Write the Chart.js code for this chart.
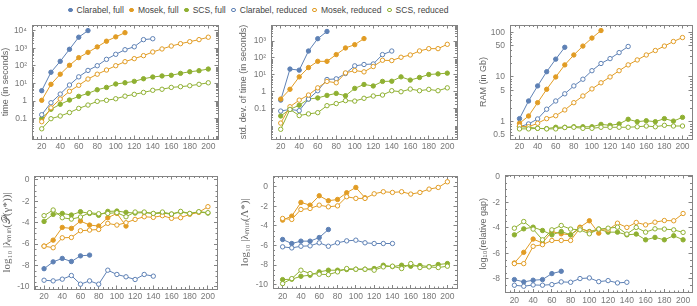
<!DOCTYPE html>
<html lang="en">
<head>
<meta charset="UTF-8">
<title>Solver benchmarks</title>
<script src="https://cdn.jsdelivr.net/npm/chart.js@4.4.0/dist/chart.umd.min.js"></script>
<style>
  body { margin: 0; background: #fff; }
  #wrap { position: relative; width: 697px; height: 306px; overflow: hidden; font-family: "Liberation Sans", Arial, sans-serif; }
  canvas { position: absolute; }
  #legend { position: absolute; left: 68px; top: 4px; display: flex; align-items: center; font-size: 8.5px; color: #444; white-space: nowrap; line-height: 12px; }
  .item { display: flex; align-items: center; margin-right: 5.5px; }
  .mk { width: 2.6px; height: 2.6px; border-radius: 50%; border: 1px solid; margin-right: 4px; }
</style>
</head>
<body>
<div id="wrap">
  <div id="legend"></div>
  <canvas id="c1" width="230" height="140" style="left:0px;top:20px"></canvas>
  <canvas id="c2" width="228" height="140" style="left:238px;top:20px"></canvas>
  <canvas id="c3" width="219" height="140" style="left:478px;top:20px"></canvas>
  <canvas id="c4" width="229" height="141" style="left:1px;top:165px"></canvas>
  <canvas id="c5" width="227" height="141" style="left:239px;top:165px"></canvas>
  <canvas id="c6" width="219" height="141" style="left:478px;top:165px"></canvas>
</div>
<script>
// problem sizes n
const nValues = [20, 30, 40, 50, 60, 70, 80, 90, 100, 110, 120, 130, 140, 150, 160, 170, 180, 190, 200];
const xTickValues = [20, 40, 60, 80, 100, 120, 140, 160, 180, 200];

const seriesNames = ['Clarabel, full', 'Mosek, full', 'SCS, full', 'Clarabel, reduced', 'Mosek, reduced', 'SCS, reduced'];

// time (s)
const clarabelFullTime = [3.9, 44, 185, 900, 4400, 10500];
const mosekFullTime = [1.1, 9, 34, 110, 300, 600, 1230, 2600, 4600, 8000];
const scsFullTime = [0.098, 0.34, 0.65, 1.14, 1.85, 2.75, 4.4, 6, 9.4, 11, 13.3, 18.7, 23.5, 27, 29.5, 38, 47, 54, 67];
const clarabelRedTime = [0.165, 0.8, 2.5, 8.2, 24, 56, 104, 240, 465, 850, 1250, 3200, 3600];
const mosekRedTime = [0.066, 0.41, 1.3, 3.6, 7.9, 18, 34, 59, 104, 176, 263, 390, 630, 940, 1380, 1880, 2450, 3200, 4400];
const scsRedTime = [0.026, 0.098, 0.14, 0.22, 0.38, 0.59, 0.96, 1.1, 1.35, 1.9, 2.4, 3.1, 4.1, 4.7, 6, 6.6, 7.5, 9, 11];

// std. dev. of time (s)
const clarabelFullStd = [0.32, 22, 19, 257, 1380, 3700];
const mosekFullStd = [0.37, 1.4, 7.6, 27, 63, 63, 158, 390, 610, 1400];
const scsFullStd = [0.037, 0.09, 0.16, 0.37, 0.43, 0.61, 0.8, 0.58, 1.58, 2.7, 2.2, 4.1, 4.2, 7.6, 4.9, 7, 10.5, 11.4, 12.6];
const clarabelRedStd = [0.072, 0.09, 0.076, 0.37, 1.15, 5.3, 5.8, 12, 34, 41, 44, 158, 257];
const mosekRedStd = [0.014, 0.13, 0.32, 0.64, 1.7, 4.1, 3.4, 13, 18, 15, 31, 73, 70, 110, 150, 260, 355, 355, 640];
const scsRedStd = [0.006, 0.09, 0.039, 0.049, 0.058, 0.15, 0.2, 0.3, 0.28, 0.41, 0.56, 0.64, 1.15, 1.0, 1.44, 1.15, 1.38, 1.15, 1.7];

// RAM (Gb)
const clarabelFullRam = [1.17, 2.9, 6.3, 13.1, 25, 46];
const mosekFullRam = [0.92, 1.34, 2.66, 5.3, 10, 18.6, 31, 49, 74, 109];
const scsFullRam = [0.77, 0.75, 0.71, 0.7, 0.75, 0.75, 0.77, 0.77, 0.77, 0.87, 0.83, 0.89, 1.13, 1.0, 1.05, 1.0, 1.17, 1.03, 1.25];
const clarabelRedRam = [0.77, 0.89, 1.15, 1.9, 2.9, 4.2, 6.3, 8.9, 13.8, 20, 25.7, 35, 48];
const mosekRedRam = [0.8, 0.77, 0.92, 1.17, 1.36, 1.83, 2.66, 3.75, 5.4, 7.4, 10, 13.8, 18.6, 24, 31, 39, 49, 62, 76];
const scsRedRam = [0.69, 0.69, 0.71, 0.69, 0.69, 0.74, 0.75, 0.71, 0.71, 0.75, 0.75, 0.75, 0.75, 0.77, 0.8, 0.77, 0.83, 0.8, 0.8];

// log10 |lambda_min(P(gamma*))|
const clarabelFullP = [-8.3, -7.66, -7.34, -7.63, -7.1, -7.03];
const mosekFullP = [-6.19, -5.63, -4.44, -4.53, -3.84, -4.22, -4.31, -3.53, -3.13, -4.31];
const scsFullP = [-3.88, -3.22, -3.13, -3.28, -2.97, -3.13, -3.31, -2.94, -2.91, -3.03, -3.1, -3.05, -3.15, -3.1, -3.2, -3.0, -3.15, -3.0, -3.1];
const clarabelRedP = [-9.38, -9.44, -9.28, -8.94, -9.75, -9.44, -9.75, -8.44, -8.84, -9.06, -9.31, -8.84, -9.0];
const mosekRedP = [-6.19, -6.34, -5.41, -5.38, -4.75, -4.69, -4.63, -4.06, -4.22, -4.0, -3.69, -3.44, -3.5, -3.34, -3.59, -3.53, -3.22, -3.03, -2.5];
const scsRedP = [-3.34, -2.81, -3.53, -3.66, -3.47, -3.06, -3.16, -3.13, -3.06, -3.44, -3.0, -3.0, -3.13, -3.0, -3.19, -2.94, -3.13, -2.97, -3.06];

// log10 |lambda_min(Lambda*)|
const clarabelFullL = [-5.39, -5.8, -5.56, -5.56, -5.19, -4.37];
const mosekFullL = [-3.41, -3.0, -1.6, -1.88, -0.92, -1.43, -1.3, -0.61, -0.07, -1.13];
const scsFullL = [-9.49, -9.45, -9.15, -9.04, -8.7, -8.53, -8.53, -8.46, -8.43, -8.43, -8.36, -8.02, -8.16, -8.02, -8.12, -8.05, -8.16, -7.95, -7.85];
const clarabelRedL = [-6.14, -6.25, -6.08, -6.04, -5.73, -6.08, -5.73, -5.53, -5.46, -5.73, -5.8, -5.8, -5.8];
const mosekRedL = [-3.24, -3.34, -2.32, -2.22, -1.88, -2.05, -1.95, -1.02, -1.19, -1.19, -0.72, -0.51, -0.58, -0.51, -0.75, -0.58, -0.24, -0.07, 0.51];
const scsRedL = [-9.9, -9.39, -8.53, -8.87, -8.94, -8.98, -8.7, -8.36, -8.43, -8.43, -8.53, -8.19, -8.12, -8.36, -7.85, -8.26, -8.19, -8.26, -8.12];

// log10(relative gap)
const clarabelFullG = [-8.05, -8.23, -8.1, -8.05, -7.58, -7.4];
const mosekFullG = [-6.75, -5.92, -4.88, -5.19, -4.29, -4.47, -4.55, -3.95, -3.45, -4.42];
const scsFullG = [-4.55, -4.08, -3.95, -4.21, -4.55, -4.29, -4.55, -4.03, -4.29, -4.1, -4.34, -4.34, -4.55, -4.49, -4.94, -4.75, -4.94, -4.62, -4.94];
const clarabelRedG = [-8.49, -8.57, -8.47, -8.49, -8.44, -8.23, -8.26, -7.97, -7.92, -8.21, -8.13, -8.31, -8.26];
const mosekRedG = [-6.8, -6.8, -5.45, -5.32, -4.99, -4.99, -4.99, -4.03, -4.34, -4.16, -4.16, -3.64, -3.97, -3.58, -3.77, -3.56, -3.43, -3.45, -2.88];
const scsRedG = [-4.03, -3.51, -4.1, -4.94, -4.16, -3.82, -4.1, -4.16, -4.47, -4.1, -4.03, -3.95, -4.49, -3.97, -4.34, -4.08, -4.1, -4.16, -4.36];

// y tick values and labels
const timeTicks = [0.1, 1, 10, 100, 1000, 10000];
const timeTickLabels = ['0.1', '1', '10¹', '10²', '10³', '10⁴'];
const stdTicks = [0.1, 1, 10, 100, 1000];
const stdTickLabels = ['0.1', '1', '10¹', '10²', '10³'];
const ramTicks = [0.5, 1, 5, 10, 50, 100];
const ramTickLabels = ['0.5', '1', '5', '10', '50', '100'];
const logTicks = [0, -2, -4, -6, -8, -10];
const logTickLabels = ['0', '-2', '-4', '-6', '-8', '-10'];
const gapTicks = [0, -2, -4, -6, -8];
const gapTickLabels = ['0', '-2', '-4', '-6', '-8'];

const colors = ['#5e81b5', '#e19c24', '#8fb032'];
const frameColor = '#848484';
const tickColor = '#777';
const sans = 'Liberation Sans, Arial, sans-serif';
const serif = 'Liberation Serif, Times New Roman, serif';

// legend
const legend = document.getElementById('legend');
seriesNames.forEach((name, i) => {
  const c = colors[i % 3];
  const item = document.createElement('div');
  item.className = 'item';
  item.innerHTML = `<span class="mk" style="border-color:${c};background:${i < 3 ? c : '#fff'}"></span>${name}`;
  legend.appendChild(item);
});

function logMinors(min, max, majors) {
  const out = [];
  for (let e = Math.floor(Math.log10(min)); e <= Math.ceil(Math.log10(max)); e++) {
    for (let k = 1; k < 10; k++) {
      const v = k * Math.pow(10, e);
      if (v >= min && v <= max && !majors.some(m => Math.abs(m - v) < v * 1e-6)) out.push(v);
    }
  }
  return out;
}
function linMinors(min, max, step, majors) {
  const out = [];
  for (let v = Math.ceil(min / step) * step; v <= max; v += step) {
    if (!majors.some(m => Math.abs(m - v) < 1e-6)) out.push(v);
  }
  return out;
}

// short minor ticks inside the frame
const minorTicks = {
  id: 'minorTicks',
  afterDraw(chart) {
    const o = chart.$minor;
    if (!o) return;
    const { ctx, chartArea: a } = chart;
    const xs = chart.scales.x, ys = chart.scales.y;
    ctx.save();
    ctx.strokeStyle = frameColor;
    ctx.lineWidth = 1;
    ctx.beginPath();
    o.x.forEach(v => {
      const p = Math.round(xs.getPixelForValue(v)) + 0.5;
      ctx.moveTo(p, a.bottom); ctx.lineTo(p, a.bottom - 2);
      ctx.moveTo(p, a.top); ctx.lineTo(p, a.top + 2);
    });
    o.y.forEach(v => {
      const p = Math.round(ys.getPixelForValue(v)) + 0.5;
      ctx.moveTo(a.left, p); ctx.lineTo(a.left + 2, p);
      ctx.moveTo(a.right, p); ctx.lineTo(a.right - 2, p);
    });
    ctx.stroke();
    ctx.restore();
  }
};

function makePanel(p) {
  const [L, T, W, H] = p.box;
  const [l, t, r, b] = p.area;
  const datasets = p.series.map((ys, i) => ({
    label: seriesNames[i],
    data: ys.map((y, j) => ({ x: nValues[j], y })),
    borderColor: colors[i % 3],
    backgroundColor: i < 3 ? colors[i % 3] : '#ffffff',
    pointBackgroundColor: i < 3 ? colors[i % 3] : '#ffffff',
    pointBorderColor: colors[i % 3],
    borderWidth: 1,
    pointRadius: 2.2,
    pointBorderWidth: 1,
    tension: 0,
    order: 6 - i
  }));
  const isLog = p.type === 'logarithmic';
  const tickFont = { family: sans, size: 8.5 };
  const inward = { display: true, drawOnChartArea: false, drawTicks: true, tickLength: -3.5, color: frameColor, lineWidth: 1 };
  const frame = { display: true, color: frameColor, width: 1 };
  const xBase = {
    display: true, type: 'linear', min: p.xMin, max: p.xMax,
    afterBuildTicks: s => { s.ticks = xTickValues.map(v => ({ value: v })); },
    grid: inward, border: frame
  };
  const yBase = {
    display: true, type: p.type, min: p.min, max: p.max,
    afterBuildTicks: s => { s.ticks = p.ticks.map(v => ({ value: v })); },
    grid: inward, border: frame
  };
  // fixed axis sizes and no label overhang padding, so the plot area sits where it should
  const fitX = h => s => { s.height = h; s.paddingLeft = 0; s.paddingRight = 0; s.paddingTop = 0; s.paddingBottom = 0; };
  const fitY = w => s => { s.width = w; s.paddingTop = 0; s.paddingBottom = 0; s.paddingLeft = 0; s.paddingRight = 0; };
  const chart = new Chart(document.getElementById(p.id), {
    type: 'line',
    data: { datasets },
    plugins: [minorTicks],
    options: {
      responsive: false,
      animation: false,
      layout: { padding: { left: 0, top: t - T, right: L + W - r, bottom: 0 } },
      plugins: { legend: { display: false }, tooltip: { enabled: false } },
      scales: {
        x: Object.assign({}, xBase, {
          position: 'bottom',
          afterFit: fitX(T + H - b),
          ticks: { autoSkip: false, maxRotation: 0, minRotation: 0, padding: 6.5, color: tickColor, font: tickFont, callback: v => String(v) }
        }),
        x2: Object.assign({}, xBase, {
          position: 'top',
          afterFit: fitX(0),
          ticks: { display: false }
        }),
        y: Object.assign({}, yBase, {
          position: 'left',
          afterFit: fitY(l - L),
          ticks: { autoSkip: false, padding: 8.5, color: tickColor, font: tickFont,
            callback: v => p.labels[p.ticks.findIndex(m => Math.abs(m - v) < Math.abs(v) * 1e-6 + 1e-9)] },
          title: { display: true, text: p.title, color: '#666', padding: 0, font: p.titleFont }
        }),
        y2: Object.assign({}, yBase, {
          position: 'right',
          afterFit: fitY(0),
          ticks: { display: false }
        })
      }
    }
  });
  chart.$minor = {
    x: linMinors(p.xMin, p.xMax, 5, xTickValues),
    y: isLog ? logMinors(p.min, p.max, p.ticks) : linMinors(p.min, p.max, 0.5, p.ticks)
  };
  chart.draw();
}

makePanel({ id: 'c1', box: [0, 20, 230, 140], area: [32, 25, 218, 139], xMin: 9.5, xMax: 210.5,
  type: 'logarithmic', min: 0.0068, max: 21900, ticks: timeTicks, labels: timeTickLabels,
  title: 'time (in seconds)', titleFont: { family: sans, size: 9 },
  series: [clarabelFullTime, mosekFullTime, scsFullTime, clarabelRedTime, mosekRedTime, scsRedTime] });

makePanel({ id: 'c2', box: [238, 20, 228, 140], area: [271, 25, 457, 139], xMin: 9.5, xMax: 210.5,
  type: 'logarithmic', min: 0.0016, max: 8900, ticks: stdTicks, labels: stdTickLabels,
  title: 'std. dev. of time (in seconds)', titleFont: { family: sans, size: 9 },
  series: [clarabelFullStd, mosekFullStd, scsFullStd, clarabelRedStd, mosekRedStd, scsRedStd] });

makePanel({ id: 'c3', box: [478, 20, 219, 140], area: [510, 25, 695, 139], xMin: 9.5, xMax: 210.5,
  type: 'logarithmic', min: 0.41, max: 145, ticks: ramTicks, labels: ramTickLabels,
  title: 'RAM (in Gb)', titleFont: { family: sans, size: 9 },
  series: [clarabelFullRam, mosekFullRam, scsFullRam, clarabelRedRam, mosekRedRam, scsRedRam] });

makePanel({ id: 'c4', box: [1, 165, 229, 141], area: [34.5, 176, 217.5, 289], xMin: 9.5, xMax: 210.5,
  type: 'linear', min: -10.2, max: 0.37, ticks: logTicks, labels: logTickLabels,
  title: 'log₁₀ |λₘᵢₙ(𝒫(γ*))|', titleFont: { family: serif, size: 11 },
  series: [clarabelFullP, mosekFullP, scsFullP, clarabelRedP, mosekRedP, scsRedP] });

makePanel({ id: 'c5', box: [239, 165, 227, 141], area: [273, 176, 457, 288.5], xMin: 9.5, xMax: 210.5,
  type: 'linear', min: -10.4, max: 1.1, ticks: logTicks, labels: logTickLabels,
  title: 'log₁₀ |λₘᵢₙ(Λ*)|', titleFont: { family: serif, size: 11 },
  series: [clarabelFullL, mosekFullL, scsFullL, clarabelRedL, mosekRedL, scsRedL] });

makePanel({ id: 'c6', box: [478, 165, 219, 141], area: [505, 175, 695, 292.5], xMin: 10, xMax: 209.5,
  type: 'linear', min: -9.06, max: 0.13, ticks: gapTicks, labels: gapTickLabels,
  title: 'log₁₀(relative gap)', titleFont: { family: sans, size: 9 },
  series: [clarabelFullG, mosekFullG, scsFullG, clarabelRedG, mosekRedG, scsRedG] });
</script>
</body>
</html>
